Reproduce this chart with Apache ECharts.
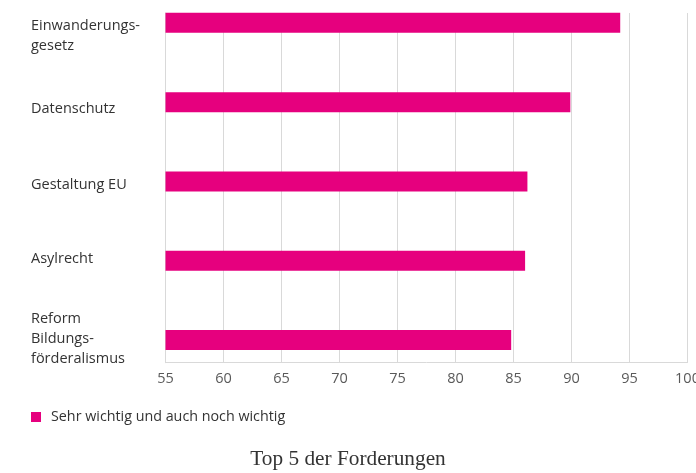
<!DOCTYPE html>
<html>
<head>
<meta charset="utf-8">
<script src="https://cdn.jsdelivr.net/npm/echarts@6/dist/echarts.min.js"></script>
<style>
    html, body { margin: 0; padding: 0; background: #fff; }
    #chart { width: 696px; height: 473px; }
</style>
</head>
<body>
<div id="chart"></div>
<script>
// Daten
var categories = ['Einwanderungs-\ngesetz', 'Datenschutz', 'Gestaltung EU', 'Asylrecht', 'Reform\nBildungs-\nförderalismus'];
var values = [94.2, 89.9, 86.2, 86.0, 84.8];
var seriesName = 'Sehr wichtig und auch noch wichtig';
var xTicks = [55, 60, 65, 70, 75, 80, 85, 90, 95, 100];
// kleine Verschiebung der Beschriftungen (px, + = nach unten)
var labelShift = [13, 7, 3, -2, -1];

var magenta = '#E6007E';
var gridGrey = '#d9d9d9';
var labelFont = { fontFamily: 'Open Sans', fontSize: 14.5, color: '#333', lineHeight: 20 };

var chart = echarts.init(document.getElementById('chart'));

// rich-Stile: eine leere Zeile oben/unten verschiebt den Textblock
var rich = { t: Object.assign({ align: 'left' }, labelFont) };
labelShift.forEach(function(d, i) {
    rich['sp' + i] = { fontSize: 1, lineHeight: Math.max(2 * Math.abs(d), 1) };
});

function formatLabel(value) {
    var i = categories.indexOf(value);
    var d = labelShift[i];
    var txt = value.split('\n').map(function(line) {
        return '{t|' + line + '}';
    }).join('\n');
    if (d > 0) txt = '{sp' + i + '| }\n' + txt;
    if (d < 0) txt = txt + '\n{sp' + i + '| }';
    return txt;
}

chart.setOption({
    animation: false,
    title: {
        text: 'Top 5 der Forderungen',
        left: 'center',
        top: 444,
        textStyle: {
            fontFamily: 'Liberation Serif',
            fontWeight: 'normal',
            fontSize: 21.3,
            color: '#333'
        }
    },
    legend: {
        data: [seriesName],
        left: 26,
        top: 405,
        icon: 'rect',
        itemWidth: 10,
        itemHeight: 10,
        textStyle: {
            fontFamily: 'Open Sans',
            fontSize: 14.3,
            color: '#333',
            padding: [0, 0, 0, 5]
        }
    },
    grid: [
        // Gitterlinien
        { left: 165.5, right: 8.5, top: 13, bottom: 110.3, outerBoundsMode: 'none', containLabel: false },
        // Balken
        { left: 165.5, right: 8.5, top: -16.8, bottom: 93.3, outerBoundsMode: 'none', containLabel: false }
    ],
    xAxis: [{
        gridIndex: 0,
        type: 'value',
        min: xTicks[0],
        max: xTicks[xTicks.length - 1],
        interval: 5,
        axisLine: { show: true, lineStyle: { color: gridGrey } },
        axisTick: { show: false },
        splitLine: { show: true, lineStyle: { color: gridGrey, width: 1 } },
        axisLabel: {
            margin: 9,
            fontFamily: 'Open Sans',
            fontSize: 14.5,
            color: '#595959'
        }
    }, {
        gridIndex: 1,
        type: 'value',
        min: xTicks[0],
        max: xTicks[xTicks.length - 1],
        show: false
    }],
    yAxis: [{
        gridIndex: 0,
        type: 'category',
        data: categories,
        axisLine: { show: true, lineStyle: { color: gridGrey } },
        axisTick: { show: false },
        axisLabel: { show: false },
        splitLine: { show: false }
    }, {
        gridIndex: 1,
        type: 'category',
        inverse: true,
        data: categories.map(function(c) { return { value: c, textStyle: { align: 'left' } }; }),
        axisLine: { show: false },
        axisTick: { show: false },
        splitLine: { show: false },
        axisLabel: Object.assign({
            align: 'left',
            margin: 134.5,
            formatter: formatLabel,
            rich: rich
        }, labelFont)
    }],
    series: [{
        name: seriesName,
        type: 'bar',
        xAxisIndex: 1,
        yAxisIndex: 1,
        barWidth: 20,
        itemStyle: { color: magenta },
        data: values
    }]
});
</script>
</body>
</html>
